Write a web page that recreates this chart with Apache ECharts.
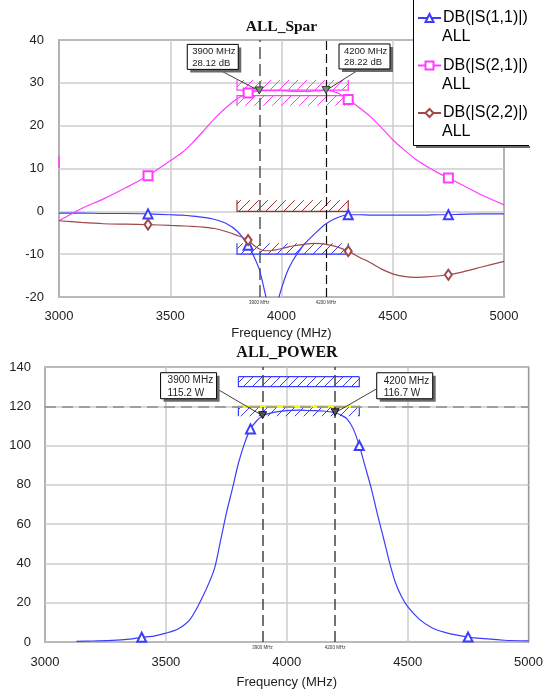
<!DOCTYPE html>
<html><head><meta charset="utf-8">
<script src="https://cdn.jsdelivr.net/npm/echarts@6/dist/echarts.min.js"></script>
<style>html,body{margin:0;padding:0;background:#fff}#c{width:546px;height:690px}</style>
</head><body><div id="c"></div>
<script>
// ---------- data ----------
const freqS = [3000,3100,3200,3300,3400,3500,3550,3600,3650,3700,3750,3800,3850,3875,3900,3925,3950,3960,3975,4000,4025,4050,4075,4100,4150,4200,4250,4300,4350,4400,4450,4500,4550,4600,4650,4700,4750,4800,4900,5000];
const s11 = [-0.4,-0.4,-0.5,-0.5,-0.6,-0.8,-0.9,-1.1,-1.4,-1.9,-2.8,-4.6,-7.9,-10.4,-13.5,-18.8,-24.5,-25,-22.5,-18,-14.2,-11.6,-9.6,-7.8,-5.2,-2.9,-1.5,-0.8,-0.8,-0.9,-0.9,-0.9,-0.9,-0.9,-0.9,-0.8,-0.8,-0.7,-0.6,-0.6];
const s21 = [-2.2,0.6,2.9,5.5,8.3,11.8,13.6,16.0,18.8,21.7,24.2,26.3,27.6,27.9,28.12,28.2,28.2,28.2,28.2,28.2,28.1,28.0,28.0,28.0,28.1,28.22,27.7,26.1,24.2,22.1,19.5,16.7,14.4,12.3,10.6,9.1,7.8,6.5,3.8,1.5];
const s22 = [-2.2,-2.6,-2.9,-3.0,-3.1,-3.3,-3.4,-3.5,-3.7,-4.0,-4.7,-5.6,-6.7,-7.9,-8.8,-9.2,-9.2,-9.1,-9.0,-8.7,-8.4,-8.1,-7.9,-7.7,-7.5,-7.7,-8.3,-9.3,-10.7,-12.0,-13.5,-14.6,-15.2,-15.4,-15.3,-15.1,-14.8,-14.3,-13.0,-11.7];
const s21EdgeFreq = [3000, 3000];
const s21Edge = [12.8, 10.1];
const freqP = [3130,3200,3280,3350,3400,3450,3500,3550,3600,3650,3700,3725,3750,3775,3800,3825,3850,3875,3900,3950,4000,4050,4100,4150,4200,4225,4250,4275,4300,4325,4350,4375,4400,4425,4450,4475,4500,4550,4600,4650,4700,4750,4800,4900,5000];
const power = [0.3,0.5,0.8,1.5,2.4,3.0,4.5,6.6,11.5,22.5,37,51,65.5,78,91,101,108.5,112.5,115.2,117,117.8,118,117.8,117.6,116.7,115.5,113.5,108.5,100,89,78,65,53,40.5,30,23,18,11.4,7.3,5,3.6,2.5,1.8,0.9,0.6];
const symbolFreq = [3400, 3850, 4300, 4750];
const markerFreq = [3900, 4200];
const markerS21 = [28.12, 28.22];
const markerPower = [115.2, 116.7];
const specRange = [3800, 4300];
const specSparVal = [28.3, 27.0, 0, -10];
const specSparDir = [1, -1, 1, 1];
const specPowerVal = [130, 120];
const specPowerDir = [1, -1];
const powerRefLine = [120];
const seriesNames = ['DB(|S(1,1)|)', 'DB(|S(2,1)|)', 'DB(|S(2,2)|)'];
const legendSub = ['ALL', 'ALL', 'ALL'];

// ---------- styles ----------
const C11 = '#3c3cff', C21 = '#ff3cff', C22 = '#a04848', CP = '#3c3cff';
const FONT = '"Liberation Sans", Arial, sans-serif';

function hatch(color){
  const s = 9, c = document.createElement('canvas'); c.width = s; c.height = s;
  const g = c.getContext('2d'); g.strokeStyle = color; g.lineWidth = 1;
  g.beginPath();
  g.moveTo(-1, s + 1); g.lineTo(s + 1, -1);
  g.moveTo(-1, 1); g.lineTo(1, -1);
  g.moveTo(s - 1, s + 1); g.lineTo(s + 1, s - 1);
  g.stroke();
  return c;
}

function lineData(freqs, vals){
  return vals.map((v, i) => symbolFreq.includes(freqs[i]) ? [freqs[i], v] : {value: [freqs[i], v], symbol: 'none'});
}

function specSeries(xi, vals, dirs, styles){
  return {
    type: 'custom', xAxisIndex: xi, yAxisIndex: xi, silent: true, z: 3,
    data: vals.map((v, i) => [specRange[0], specRange[1], v, dirs[i], i]),
    encode: {x: [0, 1], y: 2},
    renderItem(params, api){
      const i = api.value(4), st = styles[i];
      const p0 = api.coord([api.value(0), api.value(2)]);
      const p1 = api.coord([api.value(1), api.value(2)]);
      const d = api.value(3), h = st.h;
      const yE = p0[1] - d * h;
      const ch = [
        {type: 'rect', shape: {x: p0[0], y: Math.min(p0[1], yE), width: p1[0] - p0[0], height: h},
         style: {fill: {image: hatch(st.color), repeat: 'repeat'}}},
        {type: 'polyline', shape: {points: [[p0[0], yE], [p0[0], p0[1]], [p1[0], p1[1]], [p1[0], yE]]},
         style: {stroke: st.color, lineWidth: 1.2, fill: null}}
      ];
      if (st.closed) ch.push({type: 'line', shape: {x1: p0[0], y1: yE, x2: p1[0], y2: yE}, style: {stroke: st.color, lineWidth: 1.2}});
      if (st.lineColor) ch.push({type: 'line', shape: {x1: p0[0], y1: p0[1], x2: p1[0], y2: p1[1]}, style: {stroke: st.lineColor, lineWidth: 2}});
      return {type: 'group', children: ch};
    }
  };
}

function calloutSeries(xi, vals, unit, cfg, mk){
  return {
    type: 'custom', xAxisIndex: xi, yAxisIndex: xi, silent: true, z: 12,
    data: markerFreq.map((f, i) => [f, vals[i], i]),
    renderItem(params, api){
      const i = api.value(2), f = api.value(0), v = api.value(1), c = cfg[i];
      const p = api.coord([f, v]);
      const bx = p[0] + c.dx, by = p[1] + c.dy;
      const ts = {fontFamily: FONT, fontSize: c.fs, fill: '#222', align: 'left', verticalAlign: 'middle'};
      return {type: 'group', children: [
        {type: 'line', shape: {x1: bx + c.ax, y1: by + c.ay, x2: p[0], y2: p[1]}, style: {stroke: '#111', lineWidth: 0.8}},
        {type: 'rect', shape: {x: bx + 3, y: by + 3, width: c.w, height: c.h}, style: {fill: '#6a6a6a'}},
        {type: 'rect', shape: {x: bx, y: by, width: c.w, height: c.h}, style: {fill: '#fff', stroke: '#000', lineWidth: 1}},
        {type: 'text', style: Object.assign({text: f + ' MHz', x: bx + c.tx, y: by + c.l1}, ts)},
        {type: 'text', style: Object.assign({text: v + ' ' + unit, x: bx + c.tx, y: by + c.l2}, ts)},
        {type: 'polygon', shape: {points: [[p[0] - 4, p[1] - 4], [p[0] + 4, p[1] - 4], [p[0], p[1] + 3]]},
         style: {fill: mk.fill, stroke: mk.stroke, lineWidth: 1}}
      ]};
    },
    markLine: {
      silent: true, symbol: 'none',
      data: markerFreq.map((f, i) => ({xAxis: f, lineStyle: mk.lines[i],
        label: {show: true, position: 'start', formatter: f + ' MHz', fontSize: 4.5, fontFamily: FONT, color: '#333', distance: 3}}))
    }
  };
}

const chart = echarts.init(document.getElementById('c'), null, {renderer: 'canvas'});

const axisLabel = {fontFamily: FONT, fontSize: 13, color: '#222', formatter: v => String(v)};
const split = {show: true, lineStyle: {color: '#cdcdcd', width: 1.5}};

const option = {
  animation: false,
  backgroundColor: '#fff',
  title: [
    {text: 'ALL_Spar', left: 281.5, top: 19, textAlign: 'center', padding: 0,
     textStyle: {fontFamily: '"Liberation Serif", "Times New Roman", serif', fontWeight: 'bold', fontSize: 15.5, color: '#111'}},
    {text: 'ALL_POWER', left: 287, top: 345, textAlign: 'center', padding: 0,
     textStyle: {fontFamily: '"Liberation Serif", "Times New Roman", serif', fontWeight: 'bold', fontSize: 16, color: '#111'}}
  ],
  grid: [
    {left: 59, top: 40, width: 445, height: 257, show: true, borderColor: '#000', borderWidth: 1.2, backgroundColor: 'transparent'},
    {left: 45, top: 367, width: 484, height: 275, show: true, borderColor: '#000', borderWidth: 1.2, backgroundColor: 'transparent'}
  ],
  xAxis: [
    {type: 'value', gridIndex: 0, min: 3000, max: 5000, interval: 500,
     axisLine: {show: false}, axisTick: {show: false}, splitLine: split,
     axisLabel: Object.assign({margin: 13}, axisLabel),
     name: 'Frequency (MHz)', nameLocation: 'middle', nameGap: 30,
     nameTextStyle: {fontFamily: FONT, fontSize: 13, color: '#222'}},
    {type: 'value', gridIndex: 1, min: 3000, max: 5000, interval: 500,
     axisLine: {show: false}, axisTick: {show: false}, splitLine: split,
     axisLabel: Object.assign({margin: 14}, axisLabel),
     name: 'Frequency (MHz)', nameLocation: 'middle', nameGap: 34,
     nameTextStyle: {fontFamily: FONT, fontSize: 13, color: '#222'}}
  ],
  yAxis: [
    {type: 'value', gridIndex: 0, min: -20, max: 40, interval: 10,
     axisLine: {show: false}, axisTick: {show: false}, splitLine: split,
     axisLabel: Object.assign({margin: 15}, axisLabel)},
    {type: 'value', gridIndex: 1, min: 0, max: 140, interval: 20,
     axisLine: {show: false}, axisTick: {show: false}, splitLine: split,
     axisLabel: Object.assign({margin: 14}, axisLabel)}
  ],
  legend: {
    data: seriesNames, orient: 'vertical', left: 417, top: 8.5, padding: 0,
    itemWidth: 23, itemHeight: 10, itemGap: 28.5, selectedMode: false, z: 20,
    textStyle: {fontFamily: FONT, fontSize: 16, lineHeight: 19, color: '#000', padding: [0, 0, 0, -3]}
  },
  graphic: [
    {type: 'rect', z: 15, shape: {x: 413, y: 0, width: 118, height: 145}, style: {fill: '#fff'}},
    {type: 'rect', z: 15, shape: {x: 416, y: 146, width: 114, height: 2}, style: {fill: '#6a6a6a'}},
    {type: 'line', z: 16, shape: {x1: 413.5, y1: 0, x2: 413.5, y2: 145.5}, style: {stroke: '#000', lineWidth: 1}},
    {type: 'line', z: 16, shape: {x1: 413.5, y1: 145.5, x2: 529, y2: 145.5}, style: {stroke: '#000', lineWidth: 1}}
  ].concat(legendSub.map((t, i) => ({
    type: 'text', z: 21, style: {text: t, x: 442, y: 37 + i * 47.5, fontFamily: FONT, fontSize: 16, fill: '#000', align: 'left', verticalAlign: 'middle'}
  }))),
  series: [
    {name: seriesNames[0], type: 'line', xAxisIndex: 0, yAxisIndex: 0, data: lineData(freqS, s11),
     color: C11, lineStyle: {width: 1.2, color: C11}, symbol: 'emptyTriangle', symbolSize: 9, smooth: 0.25,
     itemStyle: {color: C11, borderWidth: 1.2}, emphasis: {disabled: true}, z: 5},
    {name: seriesNames[1], type: 'line', xAxisIndex: 0, yAxisIndex: 0, data: lineData(freqS, s21),
     color: C21, lineStyle: {width: 1.2, color: C21}, symbol: 'emptyRect', symbolSize: 9, smooth: 0.25,
     itemStyle: {color: C21, borderWidth: 1.2}, emphasis: {disabled: true}, z: 5},
    {name: seriesNames[2], type: 'line', xAxisIndex: 0, yAxisIndex: 0, data: lineData(freqS, s22),
     color: C22, lineStyle: {width: 1.2, color: C22}, symbol: 'emptyDiamond', symbolSize: [7, 10], smooth: 0.25,
     itemStyle: {color: C22, borderWidth: 1.2}, emphasis: {disabled: true}, z: 5},
    {name: 'S21 edge', type: 'line', xAxisIndex: 0, yAxisIndex: 0, data: s21Edge.map((v, i) => [s21EdgeFreq[i], v]),
     lineStyle: {width: 1.5, color: C21}, symbol: 'none', emphasis: {disabled: true}, z: 5},
    {name: 'POWER', type: 'line', xAxisIndex: 1, yAxisIndex: 1, data: lineData(freqP, power),
     color: CP, lineStyle: {width: 1.2, color: CP}, symbol: 'emptyTriangle', symbolSize: 9, smooth: 0.25,
     itemStyle: {color: CP, borderWidth: 1.2}, emphasis: {disabled: true}, z: 5,
     markLine: {silent: true, symbol: 'none', label: {show: false},
       data: powerRefLine.map(v => ({yAxis: v})), lineStyle: {color: '#8a8a8a', type: [11, 6], width: 1.5}}},
    specSeries(0, specSparVal, specSparDir, [
      {color: C21, h: 10}, {color: C21, h: 10}, {color: '#a03030', h: 11}, {color: C11, h: 11}]),
    specSeries(1, specPowerVal, specPowerDir, [
      {color: CP, h: 10, closed: true}, {color: CP, h: 10, lineColor: '#ffff00'}]),
    calloutSeries(0, markerS21, 'dB', [
      {dx: -72, dy: -46.5, w: 51, h: 25, ax: 31, ay: 25, tx: 5, l1: 7, l2: 18.5, fs: 9.5},
      {dx: 13, dy: -46.5, w: 51, h: 25, ax: 21, ay: 25, tx: 5, l1: 7, l2: 18.5, fs: 9.5}],
      {fill: '#7c8c7c', stroke: '#334433', lines: [
        {color: '#555', type: [12, 5], width: 1.5}, {color: '#111', type: [9, 4], width: 1.2}]}),
    calloutSeries(1, markerPower, 'W', [
      {dx: -102, dy: -43, w: 56, h: 26, ax: 56, ay: 16, tx: 7, l1: 8, l2: 20.5, fs: 10},
      {dx: 41.6, dy: -40, w: 56, h: 26, ax: 0, ay: 16, tx: 7, l1: 8, l2: 20.5, fs: 10}],
      {fill: '#555', stroke: '#111', lines: [
        {color: '#444', type: [11, 5], width: 1.5}, {color: '#444', type: [11, 5], width: 1.5}]})
  ]
};
chart.setOption(option);
</script></body></html>
